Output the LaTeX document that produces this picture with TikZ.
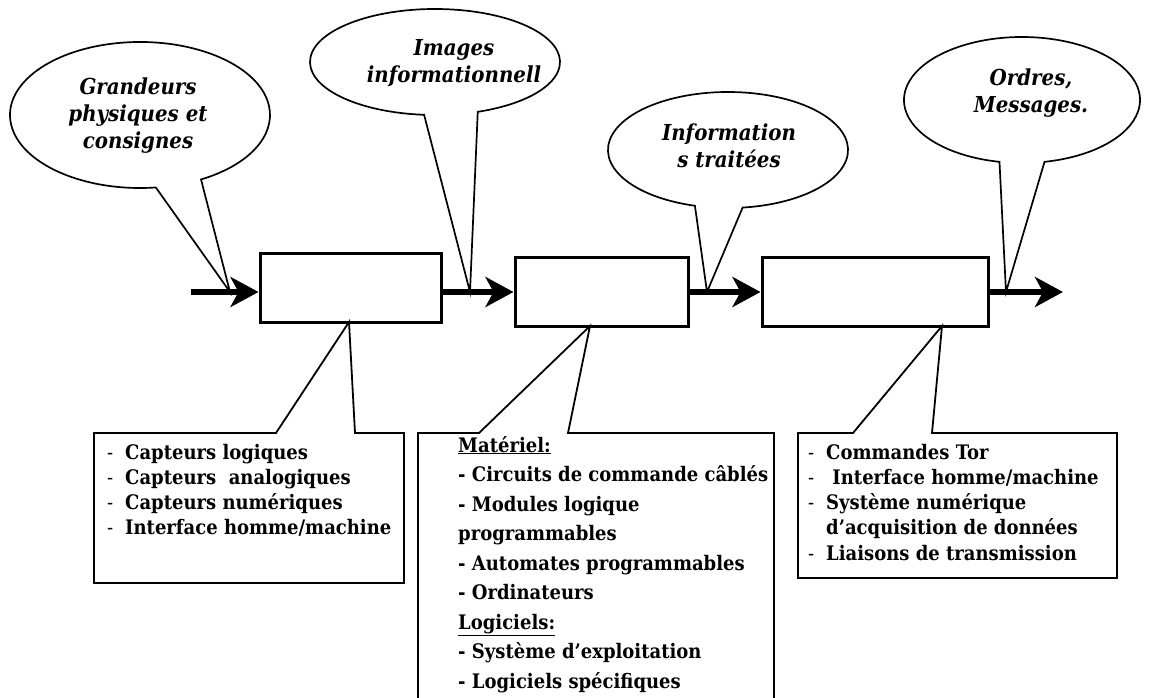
\documentclass[tikz,border=0pt]{standalone}
\usepackage{fontspec}
\setmainfont{DejaVu Serif}[FakeStretch=0.9]
\usetikzlibrary{arrows.meta}
\newcommand\itm[1]{\makebox[18pt][l]{\mdseries -}#1}
\tikzset{
  bubble/.style={draw=black, line width=1.7pt, line join=miter, fill=white},
  bubtext/.style={align=center, inner sep=0pt, font=\fontsize{22}{27}\selectfont\bfseries\itshape},
  smallbox/.style={draw=black, line width=3pt, fill=white, inner sep=0pt},
  flow/.style={line width=6pt, -{Stealth[length=28pt,width=30pt,inset=8pt]}},
  callout/.style={draw=black, line width=1.8pt, line join=miter, fill=white},
  boxtext/.style={anchor=base west, inner sep=0pt, font=\fontsize{20}{25.3}\selectfont\bfseries},
}
\begin{document}
\begin{tikzpicture}[x=1pt,y=-1pt]
\useasboundingbox (0,0) rectangle (1154,698);
\clip (0,0) rectangle (1154,698);

% ---- bubbles (ellipse callouts)
\coordinate (e1) at (140,115);
\coordinate (p1) at (230,292);
\draw[bubble] (e1) ++(83:130 and 73) arc[start angle=83,end angle=422,x radius=130,y radius=73] -- (p1) -- cycle;
\node[bubtext] (t1) at (138,116) {Grandeurs\\physiques et\\consignes};

\coordinate (e2) at (435,62);
\coordinate (p2) at (470,292);
\draw[bubble] (e2) ++(95:125 and 53) arc[start angle=95,end angle=430,x radius=125,y radius=53] -- (p2) -- cycle;
\node[bubtext] (t2) at (454,63) {Images\\informationnell};

\coordinate (e3) at (728,150);
\coordinate (p3) at (707,292);
\draw[bubble] (e3) ++(106:120 and 58) arc[start angle=106,end angle=443,x radius=120,y radius=58] -- (p3) -- cycle;
\node[bubtext] (t3) at (729,146) {Information\\s traitées};

\coordinate (e4) at (1022,100);
\coordinate (p4) at (1006,292);
\draw[bubble] (e4) ++(101:118 and 63) arc[start angle=101,end angle=439,x radius=118,y radius=63] -- (p4) -- cycle;
\node[bubtext] (t4) at (1031,93) {Ordres,\\Messages.};

% ---- small boxes
\node[smallbox, minimum width=181pt, minimum height=69pt] (b1) at (350.5,287.5) {};
\node[smallbox, minimum width=173pt, minimum height=69pt] (b2) at (601.5,291.5) {};
\node[smallbox, minimum width=226pt, minimum height=69pt] (b3) at (875,291.5) {};

% ---- lower callout boxes
\coordinate (c1) at (349,322);
\coordinate (c2) at (590,326);
\coordinate (c3) at (942,326);
\draw[callout] (276,433) -- (94,433) -- (94,583) -- (404,583) -- (404,433) -- (355,433) -- (c1) -- cycle;
\draw[callout] (479,433) -- (418,433) -- (418,720) -- (774,720) -- (774,433) -- (568,433) -- (c2) -- cycle;
\draw[callout] (853,433) -- (798,433) -- (798,578) -- (1117,578) -- (1117,433) -- (932,433) -- (c3) -- cycle;

\node[boxtext] (l1) at (107,459) {\begin{tabular}[t]{@{}l@{}}
\itm{Capteurs logiques}\\
\itm{Capteurs~ analogiques}\\
\itm{Capteurs numériques}\\
\itm{Interface homme/machine}
\end{tabular}};

\node[boxtext, font=\fontsize{20}{29.5}\selectfont\bfseries] (l2) at (458,452) {\begin{tabular}[t]{@{}l@{}}
\underline{Matériel:}\\
- Circuits de commande câblés\\
- Modules logique\\
programmables\\
- Automates programmables\\
- Ordinateurs\\
\underline{Logiciels:}\\
- Système d’exploitation\\
- Logiciels spécifiques
\end{tabular}};

\node[boxtext] (l3) at (808,459) {\begin{tabular}[t]{@{}l@{}}
\itm{Commandes Tor}\\
\itm{~Interface homme/machine}\\
\itm{Système numérique}\\
\hspace{18pt}d’acquisition de données\\
\itm{Liaisons de transmission}
\end{tabular}};

% ---- flow arrows
\coordinate (a0) at (191,292);
\coordinate (a4) at (1063,292);
\draw[flow] (a0) -- (a0 -| b1.west);
\draw[flow] (b1.east |- a0) -- (b2.west |- a0);
\draw[flow] (b2.east |- a0) -- (b3.west |- a0);
\draw[flow] (b3.east |- a0) -- (a4);
\end{tikzpicture}
\end{document}
